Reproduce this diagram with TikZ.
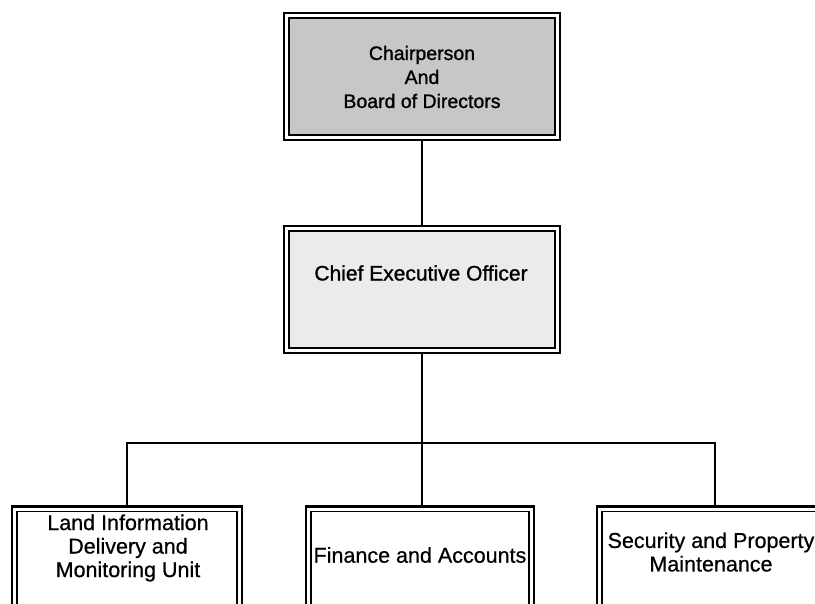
\documentclass[tikz,border=0pt]{standalone}
\usepackage{fontspec}
\setmainfont{Liberation Sans}
\newfontfamily\boxfont[FakeBold=1.2]{Liberation Sans}
\newfontfamily\unitfont[FakeBold=0.6]{Liberation Sans}
\begin{document}
\begin{tikzpicture}[x=1pt,y=-1pt,
  % double frame: heavy outer rule, thin inner rule, tinted interior
  frame/.style 2 args={draw=black, line width=2.8pt, minimum width=#1,
    inner sep=0pt, fill=white,
    path picture={
      \draw[line width=1.5pt, fill=#2]
        ([shift={(5pt,-5pt)}]path picture bounding box.north west) rectangle
        ([shift={(-5pt,5pt)}]path picture bounding box.south east);}},
  toptext/.style={font=\boxfont\fontsize{19.5}{24}\selectfont, align=center},
  unittext/.style={font=\unitfont\fontsize{21.5}{23.5}\selectfont, align=center},
  link/.style={line width=1.9pt}
]
\useasboundingbox (0,0) rectangle (815,604);
\clip (0,0) rectangle (815,604);

% board and chief executive
\node[frame={276pt}{black!22}, minimum height=127pt] (board) at (422,76.5) {};
\node[toptext] (boardtxt) at (422,77) {Chairperson\\And\\Board of Directors};

\node[frame={276pt}{black!8}, minimum height=127pt] (ceo) at (422,289.5) {};
\node[font=\boxfont\fontsize{21}{24}\selectfont] (ceotxt) at (421,273) {Chief Executive Officer};

% operating units (frames run past the lower edge)
\node[frame={230pt}{white}, minimum height=150pt, anchor=north] (land) at (127,505) {};
\node[unittext] (landtxt) at (128,548) {Land Information\\Delivery and\\Monitoring Unit};

\node[frame={228pt}{white}, minimum height=150pt, anchor=north] (fin) at (420,505) {};
\node[unittext] (fintxt) at (420,555) {Finance and Accounts};

\node[frame={236pt}{white}, minimum height=150pt, anchor=north] (secu) at (715,505) {};
\node[unittext] (secutxt) at (711,552) {Security and Property\\Maintenance};

% reporting lines
\coordinate (bus) at (422,443);
\draw[link] (board.south) -- (ceo.north);
\draw[link] (ceo.south) -- (ceo.south |- fin.north);
\draw[line width=1.6pt] (land.north) -- (land.north |- bus) -- (secu.north |- bus) -- (secu.north);
\end{tikzpicture}
\end{document}
